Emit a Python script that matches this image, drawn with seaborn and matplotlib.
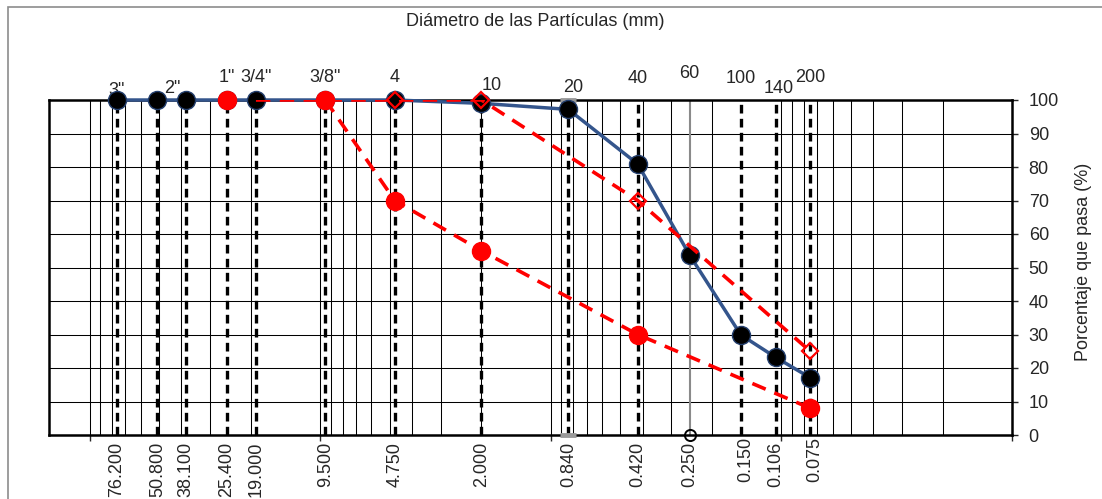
import numpy as np
import pandas as pd
import matplotlib
matplotlib.use("Agg")
import matplotlib.pyplot as plt
import seaborn as sns
from matplotlib.ticker import LogLocator, NullFormatter
from matplotlib.patches import Rectangle

# ---------------- data ----------------
sieve_mm = [76.2, 50.8, 38.1, 25.4, 19.0, 9.5, 4.75, 2.0, 0.84, 0.42, 0.25, 0.15, 0.106, 0.075]
sieve_names = ['3"', '2"', '', '1"', '3/4"', '3/8"', '4', '10', '20', '40', '60', '100', '140', '200']
bottom_labels = ["76.200", "50.800", "38.100", "25.400", "19.000", "9.500", "4.750",
                 "2.000", "0.840", "0.420", "0.250", "0.150", "0.106", "0.075"]
pct_passing = [100, 100, 100, 100, 100, 100, 100, 99.0, 97.2, 80.9, 53.7, 29.9, 23.2, 17.1]

lower_mm = [25.4, 9.5, 4.75, 2.0, 0.42, 0.075]
lower_pct = [100, 100, 70, 55, 30, 8]
upper_mm = [19.0, 9.5, 4.75, 2.0, 0.42, 0.075]
upper_pct = [100, 100, 100, 100, 70, 25]

y_ticks = list(range(0, 101, 10))

# label placement (pixels)
top_dx = [0, 15, 0, 0, 0, 0, 0, 10, 5, 0, 0, 0, 3, 0]
top_dy = [5, 7, 0, 18, 18, 18, 18, 10, 8, 17, 22, 17, 7, 18]
bot_dx = [0, 0, 0, 0, 0, 0, 0, 0, 0, 0, 0, 5, 0, 5]
bot_dy = [-7, -7, -7, -7, -7, -7, -7, -7, -7, -7, -7, -2, -7, -2]

# ---------------- style ----------------
sns.set_style("white")
plt.rcParams["font.family"] = ["Liberation Sans", "DejaVu Sans"]

W, H = 1102, 499
fig = plt.figure(figsize=(W / 100, H / 100), dpi=100)
ax = fig.add_axes([49 / W, (H - 435) / H, 963 / W, 335 / H])

ax.set_xscale("log")
ax.set_xlim(150, 0.01)
ax.set_ylim(0, 100)

# grid
ax.xaxis.set_major_locator(LogLocator(base=10, numticks=20))
ax.xaxis.set_minor_locator(LogLocator(base=10, subs=np.arange(2, 10), numticks=100))
ax.xaxis.set_major_formatter(NullFormatter())
ax.xaxis.set_minor_formatter(NullFormatter())
ax.set_yticks(y_ticks)
ax.grid(which="both", axis="x", color="black", lw=0.75, zorder=0)
ax.grid(which="major", axis="y", color="black", lw=0.75, zorder=0)
ax.set_axisbelow(True)

ax.tick_params(axis="x", which="major", direction="out", length=4, width=1, bottom=True, top=False)
ax.tick_params(axis="x", which="minor", length=0)
ax.yaxis.tick_right()
ax.tick_params(axis="y", which="major", direction="out", length=4, width=1, pad=8,
               labelsize=13, right=True, left=False)
for s in ax.spines.values():
    s.set_visible(True)
    s.set_color("black")
    s.set_linewidth(1.8)

# special grey lines / marks
ax.vlines([sieve_mm[10]], 0, 100, color="#8a8a8a", lw=1.5, zorder=1)
ax.plot([sieve_mm[8], sieve_mm[8]], [0, 100], linestyle="none", marker="_",
        markersize=12, markeredgewidth=3.5, color="#9a9a9a", zorder=3, clip_on=False)
ax.plot([sieve_mm[10]], [0], linestyle="none", marker="o", markersize=8,
        markerfacecolor="none", markeredgecolor="black", markeredgewidth=1.4,
        zorder=3, clip_on=False)

# sieve dashed verticals
sieve_lines = [m for m in sieve_mm if m != 0.25]
ax.vlines(sieve_lines, 0, 100, color="black", lw=2.4,
          linestyles=[(0, (2.6, 1.6))], zorder=2)

# gradation curve
df = pd.DataFrame({"mm": sieve_mm, "pct": pct_passing})
sns.lineplot(data=df, x="mm", y="pct", ax=ax, sort=False, color="#34558C", lw=2.5,
             marker="o", markersize=13, markerfacecolor="black",
             markeredgecolor="#243F6E", markeredgewidth=1.0, zorder=4, clip_on=False)

# limits
dfl = pd.DataFrame({"mm": lower_mm, "pct": lower_pct})
dfu = pd.DataFrame({"mm": upper_mm, "pct": upper_pct})
sns.lineplot(data=dfl.iloc[1:], x="mm", y="pct", ax=ax, sort=False, color="#FF0000",
             lw=2.6, linestyle=(0, (4, 2.6)), zorder=5)
ax.plot(dfl["mm"], dfl["pct"], linestyle="none", marker="o", markersize=13,
        color="#FF0000", zorder=6, clip_on=False)
sns.lineplot(data=dfu, x="mm", y="pct", ax=ax, sort=False, color="#FF0000",
             lw=2.6, linestyle=(0, (4, 2.6)), zorder=5)
ax.plot(dfu["mm"].iloc[2:], dfu["pct"].iloc[2:], linestyle="none", marker="D",
        markersize=8, markerfacecolor="none", markeredgecolor="#FF0000",
        markeredgewidth=1.6, zorder=6, clip_on=False)

ax.set_xlabel("")
ax.set_ylabel("")

# top sieve names
for m, n, dx, dy in zip(sieve_mm, sieve_names, top_dx, top_dy):
    if n:
        ax.annotate(n, xy=(m, 100), xytext=(dx, dy), textcoords="offset pixels",
                    ha="center", va="baseline", fontsize=13, annotation_clip=False)

# bottom size labels
for m, lbl, dx, dy in zip(sieve_mm, bottom_labels, bot_dx, bot_dy):
    ax.annotate(lbl, xy=(m, 0), xytext=(dx, dy), textcoords="offset pixels",
                ha="center", va="top", rotation=90, fontsize=13, annotation_clip=False)

fig.text(535 / W, 1 - 22 / H, "Diámetro de las Partículas (mm)", ha="center", va="center",
         fontsize=13)
fig.text(1083 / W, 1 - 262 / H, "Porcentaje que pasa (%)", ha="center", va="center",
         rotation=90, fontsize=13)

fig.add_artist(Rectangle((8 / W, -0.5), 2.0, 0.5 + 1 - 7 / H, transform=fig.transFigure,
                         fill=False, edgecolor="#8c8c8c", lw=1.2))

fig.savefig("out.png", dpi=100)
